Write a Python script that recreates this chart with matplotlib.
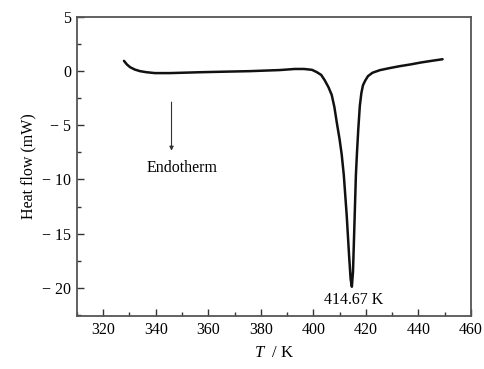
import matplotlib
matplotlib.use("Agg")
import matplotlib.pyplot as plt
from matplotlib.ticker import MultipleLocator, FuncFormatter
import numpy as np

plt.rcParams['font.family'] = ['Liberation Serif', 'DejaVu Serif']
plt.rcParams['mathtext.fontset'] = 'custom'
plt.rcParams['mathtext.it'] = 'Liberation Serif:italic'
plt.rcParams['mathtext.rm'] = 'Liberation Serif'

# DSC curve
temperature = [327.9, 329.0, 330.2, 332.0, 334.0, 336.5, 339.7, 345.4, 356.8, 366.0,
               375.8, 387.2, 392.9, 396.5, 399.5, 401.3, 403.0, 404.3, 405.8, 407.0,
               408.0, 408.9, 410.0, 410.8, 411.6, 412.7, 413.6, 414.2, 414.67, 415.1,
               415.6, 416.2, 416.6, 417.1, 417.7, 418.3, 418.9, 419.8, 420.8, 422.5,
               425.3, 429.0, 432.9, 437.0, 441.0, 445.0, 449.2]
heat_flow = [0.95, 0.62, 0.37, 0.15, 0.0, -0.1, -0.18, -0.18, -0.1, -0.05,
             0.0, 0.1, 0.2, 0.2, 0.12, -0.09, -0.35, -0.83, -1.5, -2.2,
             -3.3, -4.7, -6.3, -7.7, -9.6, -13.3, -17.0, -19.2, -19.9, -18.5,
             -14.5, -9.6, -7.6, -5.4, -3.2, -2.0, -1.3, -0.85, -0.46, -0.15,
             0.09, 0.28, 0.46, 0.62, 0.8, 0.95, 1.1]

x_ticks = [320, 340, 360, 380, 400, 420, 440, 460]
y_ticks = [5, 0, -5, -10, -15, -20]
peak_T = 414.67
peak_label = "414.67 K"

fig = plt.figure(figsize=(4.84, 3.69), dpi=100)
ax = fig.add_axes([0.159, 0.1436, 0.814, 0.8104])

ax.plot(temperature, heat_flow, color='#111111', lw=1.8, solid_capstyle='round')

ax.set_xlim(310, 460)
ax.set_ylim(-22.6, 5)
ax.set_xticks(x_ticks)
ax.set_yticks(y_ticks)
ax.xaxis.set_minor_locator(MultipleLocator(10))
ax.yaxis.set_minor_locator(MultipleLocator(2.5))

def fmt(v, pos):
    v = int(round(v))
    return f"\u2212 {abs(v)}" if v < 0 else f"{v}"
ax.yaxis.set_major_formatter(FuncFormatter(fmt))

ax.tick_params(axis='both', which='major', direction='in', length=5, width=1,
               labelsize=11.5, color='#333333')
ax.tick_params(axis='both', which='minor', direction='in', length=3, width=1,
               color='#333333')
ax.tick_params(axis='x', pad=4)
ax.tick_params(axis='y', pad=4)
ax.tick_params(top=False, right=False, which='both')
for s in ax.spines.values():
    s.set_color('#555555')
    s.set_linewidth(1.3)

ax.set_ylabel("Heat flow (mW)", fontsize=11.5, labelpad=4)
ax.set_xlabel(r"$T$  / K", fontsize=12, labelpad=5)

ax.annotate("", xy=(346, -7.6), xytext=(346, -2.6),
            arrowprops=dict(arrowstyle='-|>', color='#333333', lw=0.8,
                            mutation_scale=6))
ax.text(350, -8.9, "Endotherm", fontsize=11.5, ha='center', va='center')
ax.text(peak_T + 0.6, -21.1, peak_label, fontsize=11.5, ha='center', va='center')

fig.savefig("out.png", dpi=100)
